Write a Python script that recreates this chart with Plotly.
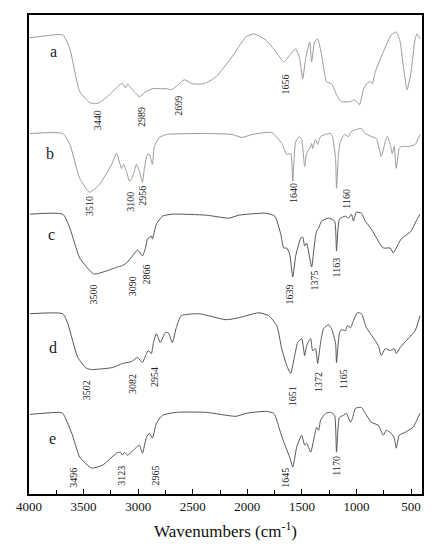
import plotly.graph_objects as go

# ---------------- data (wavenumber, offset transmittance a.u.) ----------------
a_wn = [4000, 3854, 3690, 3626, 3535, 3444, 3398, 3353, 3262, 3170, 3143, 3116, 3097, 3052, 2988, 2943,
        2870, 2806, 2742, 2696, 2642, 2578, 2505, 2396, 2286, 2140, 2013, 1940, 1830, 1739, 1666, 1603,
        1557, 1520, 1493, 1466, 1429, 1411, 1384, 1356, 1320, 1274, 1229, 1183, 1138, 1055, 1019, 973,
        937, 909, 873, 855, 828, 755, 682, 636, 600, 573, 536, 500, 463, 445, 418]
a_y = [458, 460, 461, 447, 404, 393, 392, 393, 401, 411, 412, 408, 412, 406, 399, 403,
       407, 407, 407, 406, 410, 416, 412, 412, 419, 439, 459, 462, 456, 444, 434, 442,
       447, 437, 417, 437, 454, 434, 454, 457, 441, 414, 412, 401, 394, 394, 396, 391,
       406, 412, 414, 412, 424, 444, 461, 464, 454, 431, 406, 424, 457, 462, 457]

b_wn = [3991, 3690, 3626, 3535, 3444, 3353, 3243, 3198, 3152, 3134, 3107, 3079, 3043, 3015, 2988, 2961,
        2943, 2915, 2897, 2870, 2851, 2806, 2742, 2377, 2140, 2049, 1958, 1775, 1685, 1639, 1603, 1584,
        1557, 1520, 1502, 1475, 1457, 1429, 1411, 1402, 1375, 1356, 1329, 1238, 1220, 1192, 1183, 1165,
        1147, 1110, 1074, 1046, 1001, 955, 919, 864, 818, 773, 736, 718, 691, 673, 654, 636, 609, 591,
        527, 463, 418]
b_y = [362, 362, 351, 317, 303, 311, 331, 342, 327, 331, 324, 314, 321, 331, 324, 313,
       327, 341, 341, 331, 349, 358, 361, 362, 361, 358, 361, 363, 352, 341, 342, 314,
       354, 359, 356, 329, 342, 347, 352, 347, 356, 351, 359, 362, 359, 337, 307, 341,
       354, 361, 359, 364, 366, 367, 362, 359, 357, 339, 354, 359, 351, 342, 349, 327, 347, 349,
       349, 351, 361]

c_wn = [3991, 3690, 3626, 3535, 3407, 3289, 3189, 3152, 3107, 3052, 3006, 2961, 2933, 2915, 2879, 2870,
        2833, 2778, 2687, 2377, 2168, 2077, 1830, 1748, 1694, 1666, 1639, 1612, 1584, 1557, 1511, 1493,
        1475, 1457, 1411, 1384, 1366, 1347, 1320, 1256, 1201, 1183, 1156, 1101, 1074, 1046, 1028, 1001,
        955, 919, 864, 800, 755, 691, 664, 636, 591, 500, 454, 418]
c_y = [281, 281, 267, 237, 221, 224, 228, 229, 232, 239, 245, 239, 247, 256, 259, 256,
       271, 279, 281, 280, 277, 280, 282, 279, 261, 247, 247, 241, 218, 239, 257, 258,
       249, 252, 228, 252, 264, 267, 274, 277, 274, 244, 276, 279, 277, 281, 274, 283,
       282, 274, 266, 254, 247, 247, 242, 247, 256, 264, 274, 281]

d_wn = [3991, 3690, 3644, 3553, 3471, 3417, 3234, 3143, 3061, 3006, 2961, 2924, 2906, 2879, 2860, 2833,
        2797, 2751, 2724, 2687, 2651, 2605, 2441, 2195, 2077, 1894, 1803, 1730, 1685, 1639, 1603, 1566,
        1539, 1502, 1475, 1457, 1420, 1402, 1375, 1356, 1329, 1302, 1256, 1229, 1192, 1183, 1156, 1138,
        1101, 1083, 1055, 1028, 992, 955, 909, 846, 800, 773, 736, 691, 654, 636, 600, 527, 463, 418]
d_y = [181, 181, 171, 137, 126, 125, 127, 131, 133, 137, 132, 141, 144, 141, 152, 161,
       152, 162, 162, 152, 167, 179, 181, 175, 177, 182, 179, 169, 146, 129, 121, 139,
       152, 156, 139, 149, 156, 144, 146, 131, 152, 166, 170, 166, 152, 132, 162, 165,
       164, 169, 167, 174, 182, 181, 167, 157, 149, 139, 146, 144, 146, 141, 147, 156, 164, 179]

e_wn = [3991, 3717, 3690, 3608, 3535, 3426, 3325, 3198, 3161, 3143, 3125, 3097, 3015, 2988, 2961, 2924,
        2897, 2870, 2833, 2778, 2651, 2377, 2104, 2013, 1830, 1757, 1730, 1694, 1648, 1612, 1584, 1548,
        1502, 1475, 1457, 1420, 1384, 1366, 1347, 1329, 1283, 1238, 1201, 1183, 1156, 1119, 1092, 1055,
        1037, 1010, 955, 919, 864, 800, 755, 727, 682, 654, 636, 609, 554, 482, 436, 418]
e_y = [80, 82, 81, 61, 37, 26, 29, 41, 42, 39, 42, 39, 47, 49, 41, 57,
       61, 56, 71, 79, 82, 82, 78, 81, 83, 81, 74, 61, 47, 37, 27, 47,
       59, 49, 51, 42, 59, 67, 64, 74, 81, 82, 79, 42, 77, 79, 81, 72,
       76, 86, 87, 81, 72, 69, 59, 64, 61, 56, 46, 59, 62, 67, 77, 81]

series_names = ["a", "b", "c", "d", "e"]
series_colors = ["#9a9a9a", "#9a9a9a", "#555555", "#555555", "#555555"]

# trace letter labels (wavenumber, y)
letter_x = [3772, 3809, 3790, 3781, 3781]
letter_y = [444, 342, 261, 147, 56]

# peak labels
peak_text = ["3440", "2989", "2699", "1656",
             "3510", "3100", "2956", "1640", "1160",
             "3500", "3090", "2866", "1639", "1375", "1163",
             "3502", "3082", "2954", "1651", "1372", "1165",
             "3496", "3123", "2965", "1645", "1170"]
peak_x = [3371, 2970, 2633, 1648,
          3453, 3070, 2961, 1575, 1092,
          3407, 3052, 2924, 1612, 1384, 1183,
          3471, 3052, 2851, 1584, 1347, 1119,
          3599, 3152, 2842, 1657, 1183]
peak_y = [375, 379, 390, 411,
          289, 293, 300, 302, 297,
          200, 209, 221, 200, 214, 227,
          104, 111, 118, 98, 112, 115,
          16, 18, 19, 16, 28]

x_ticks = [4000, 3500, 3000, 2500, 2000, 1500, 1000, 500]

# ---------------- figure ----------------
fig = go.Figure()
all_x = [a_wn, b_wn, c_wn, d_wn, e_wn]
all_y = [a_y, b_y, c_y, d_y, e_y]
for name, xs, ys, col in zip(series_names, all_x, all_y, series_colors):
    fig.add_trace(go.Scatter(x=xs, y=ys, mode="lines", name=name,
                             line=dict(color=col, width=1, shape="spline", smoothing=0.5),
                             showlegend=False, hoverinfo="skip"))

serif = "Liberation Serif"
for name, lx, ly in zip(series_names, letter_x, letter_y):
    fig.add_annotation(x=lx, y=ly, text=name, showarrow=False,
                       font=dict(family=serif, size=16, color="#222"))
for t, px, py in zip(peak_text, peak_x, peak_y):
    fig.add_annotation(x=px, y=py, text=t, showarrow=False, textangle=-90,
                       font=dict(family=serif, size=10, color="#222"))

# the page body has an 8px margin, so the figure is sized to fill the rest of the window
fig.update_layout(
    width=438, height=542,
    margin=dict(l=21, r=24, t=5, b=56),
    paper_bgcolor="white", plot_bgcolor="white",
    font=dict(family=serif, color="#111"),
    xaxis=dict(range=[4000, 400], tickvals=x_ticks, ticks="inside", ticklen=5,
               tickwidth=1.2, tickcolor="black",
               minor=dict(dtick=250, tick0=0, ticks="inside", ticklen=4, tickcolor="black"),
               showline=True, linecolor="black", linewidth=1.5, mirror=True,
               showgrid=False, zeroline=False,
               tickfont=dict(family=serif, size=13, color="#111"),
               title=dict(text="Wavenumbers (cm<sup>-1</sup>)", standoff=12,
                          font=dict(family=serif, size=17, color="#111"))),
    yaxis=dict(range=[0, 481], showticklabels=False, ticks="",
               showline=True, linecolor="black", linewidth=1.5, mirror=True,
               showgrid=False, zeroline=False),
)

fig.write_html("out.html")
